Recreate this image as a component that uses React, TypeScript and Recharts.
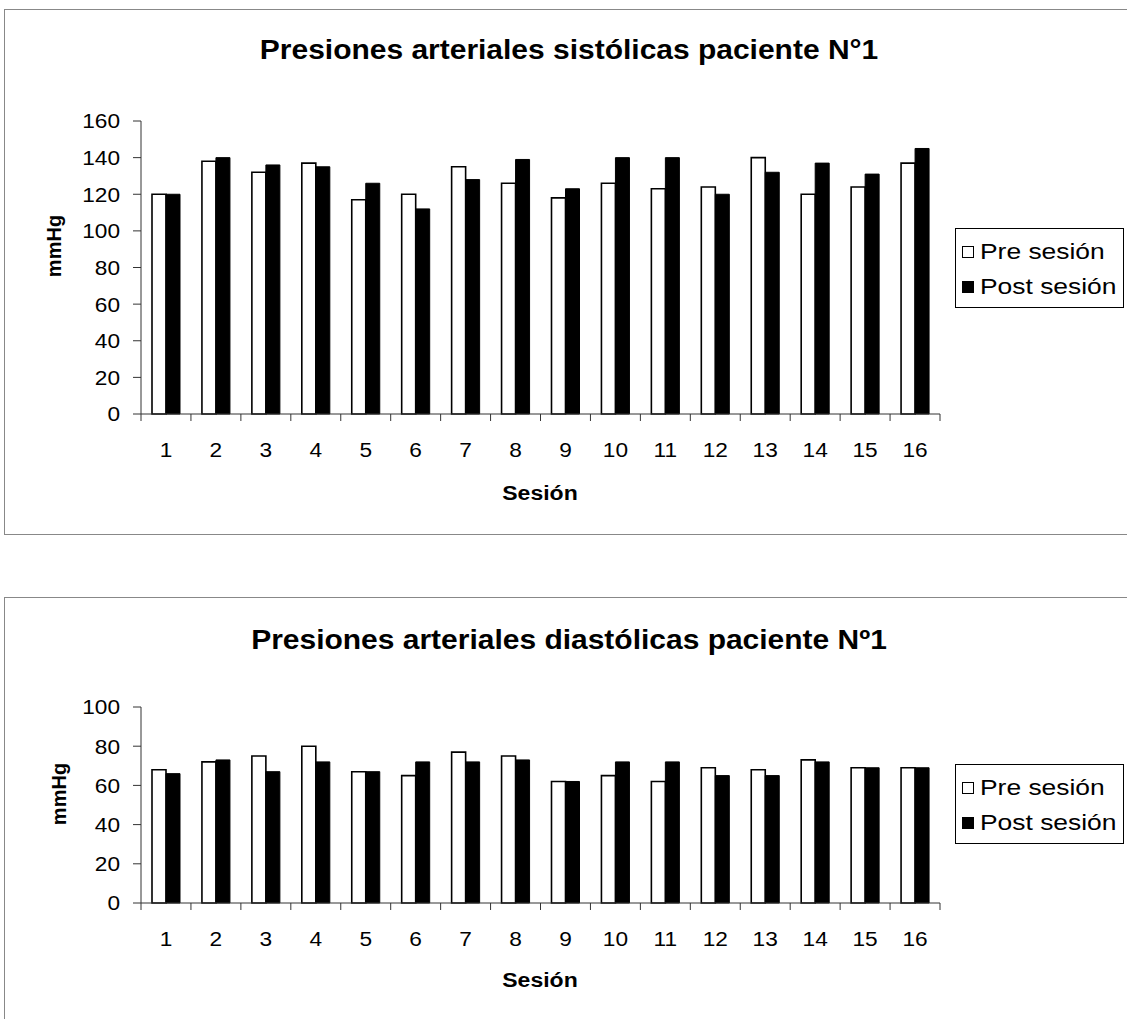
import React from 'react';
import { BarChart, Bar, XAxis, YAxis } from 'recharts';

const sessions = ['1', '2', '3', '4', '5', '6', '7', '8', '9', '10', '11', '12', '13', '14', '15', '16'];
const systolicPre = [120, 138, 132, 137, 117, 120, 135, 126, 118, 126, 123, 124, 140, 120, 124, 137];
const systolicPost = [120, 140, 136, 135, 126, 112, 128, 139, 123, 140, 140, 120, 132, 137, 131, 145];
const diastolicPre = [68, 72, 75, 80, 67, 65, 77, 75, 62, 65, 62, 69, 68, 73, 69, 69];
const diastolicPost = [66, 73, 67, 72, 67, 72, 72, 73, 62, 72, 72, 65, 65, 72, 69, 69];
const systolicTicks = [0, 20, 40, 60, 80, 100, 120, 140, 160];
const diastolicTicks = [0, 20, 40, 60, 80, 100];
const seriesNames = ['Pre sesión', 'Post sesión'];
const titleSystolic = 'Presiones arteriales sistólicas paciente N°1';
const titleDiastolic = 'Presiones arteriales diastólicas paciente Nº1';
const yLabel = 'mmHg';
const xLabel = 'Sesión';

const FONT = '"Liberation Sans", Arial, Helvetica, sans-serif';
const PLOT_LEFT = 141;
const PLOT_RIGHT = 940;
const PAGE_W = 1127;
const BAND = (PLOT_RIGHT - PLOT_LEFT) / sessions.length;

function buildRows(pre: number[], post: number[]) {
  return sessions.map((s, i) => ({ session: s, pre: pre[i], post: post[i] }));
}

const XTick = (props: any) => {
  const { x, y, payload, index } = props;
  const half = BAND / 2;
  const last = index === sessions.length - 1;
  return (
    <g>
      <line x1={x - half} x2={x - half} y1={y} y2={y + 7} stroke="#333" strokeWidth={1} />
      {last && <line x1={x + half} x2={x + half} y1={y} y2={y + 7} stroke="#333" strokeWidth={1} />}
      <text
        x={x}
        y={y + 43}
        textAnchor="middle"
        fontSize={21}
        fontFamily={FONT}
        fill="#000"
        transform={`translate(${x} 0) scale(1.08 1) translate(${-x} 0)`}
      >
        {payload.value}
      </text>
    </g>
  );
};

const YTick = (props: any) => {
  const { x, y, payload } = props;
  return (
    <text
      x={x}
      y={y + 7.5}
      textAnchor="end"
      fontSize={21}
      fontFamily={FONT}
      fill="#000"
      transform={`translate(${x} 0) scale(1.08 1) translate(${-x} 0)`}
    >
      {payload.value}
    </text>
  );
};

type ChartProps = {
  offsetTop: number;
  height: number;
  plotTop: number;
  plotBottom: number;
  pre: number[];
  post: number[];
  ticks: number[];
  max: number;
};

function PressureChart({ offsetTop, height, plotTop, plotBottom, pre, post, ticks, max }: ChartProps) {
  const data = buildRows(pre, post);
  const xAxisH = 30;
  return (
    <div style={{ position: 'absolute', left: 0, top: offsetTop, width: PAGE_W, height }}>
      <BarChart
        width={PAGE_W}
        height={height}
        data={data}
        margin={{
          top: plotTop - offsetTop,
          right: PAGE_W - PLOT_RIGHT,
          left: PLOT_LEFT - 60,
          bottom: offsetTop + height - plotBottom - xAxisH,
        }}
        barGap={0}
        barSize={14}
      >
        <XAxis
          dataKey="session"
          height={xAxisH}
          interval={0}
          tickLine={false}
          tickSize={0}
          tickMargin={0}
          axisLine={{ stroke: '#333', strokeWidth: 1 }}
          tick={<XTick />}
        />
        <XAxis
          xAxisId="top"
          orientation="top"
          dataKey="session"
          height={0}
          tick={false}
          tickLine={false}
          axisLine={{ stroke: '#999', strokeWidth: 1 }}
        />
        <YAxis
          width={60}
          domain={[0, max]}
          ticks={ticks}
          interval={0}
          tickSize={8}
          tickMargin={13}
          axisLine={{ stroke: '#333', strokeWidth: 1 }}
          tickLine={{ stroke: '#333', strokeWidth: 1 }}
          tick={<YTick />}
        />
        <YAxis
          yAxisId="right"
          orientation="right"
          width={0}
          domain={[0, max]}
          tick={false}
          tickLine={false}
          axisLine={{ stroke: '#999', strokeWidth: 1 }}
        />
        <Bar dataKey="pre" name={seriesNames[0]} fill="#fff" stroke="#000" strokeWidth={1.6} isAnimationActive={false} />
        <Bar dataKey="post" name={seriesNames[1]} fill="#000" stroke="#000" strokeWidth={1} isAnimationActive={false} />
      </BarChart>
    </div>
  );
}

function LegendBox({ left, top }: { left: number; top: number }) {
  const rows = [
    { name: seriesNames[0], fill: '#fff' },
    { name: seriesNames[1], fill: '#000' },
  ];
  return (
    <div
      style={{
        position: 'absolute',
        left,
        top,
        width: 169,
        height: 80,
        border: '1px solid #000',
        boxSizing: 'border-box',
        background: '#fff',
      }}
    >
      {rows.map((r, i) => (
        <div
          key={r.name}
          style={{
            position: 'absolute',
            left: 6,
            top: i === 0 ? 10 : 45,
            height: 26,
            display: 'flex',
            alignItems: 'center',
            whiteSpace: 'nowrap',
          }}
        >
          <span
            style={{
              display: 'inline-block',
              width: 10,
              height: 10,
              background: r.fill,
              border: '1px solid #000',
              marginRight: 6,
            }}
          />
          <span
            style={{
              display: 'inline-block',
              fontSize: 22,
              fontFamily: FONT,
              color: '#000',
              transform: 'scaleX(1.2)',
              transformOrigin: 'left center',
            }}
          >
            {r.name}
          </span>
        </div>
      ))}
    </div>
  );
}

function Title({ text, cy }: { text: string; cy: number }) {
  return (
    <div
      style={{
        position: 'absolute',
        left: 169,
        width: 800,
        top: cy - 17,
        height: 34,
        lineHeight: '34px',
        textAlign: 'center',
        fontFamily: FONT,
        fontWeight: 'bold',
        fontSize: 27,
        color: '#000',
        whiteSpace: 'nowrap',
        transform: 'scaleX(1.11)',
        transformOrigin: 'center center',
      }}
    >
      {text}
    </div>
  );
}

function YLabel({ cx, cy }: { cx: number; cy: number }) {
  return (
    <div
      style={{
        position: 'absolute',
        left: cx - 40,
        top: cy - 12,
        width: 80,
        height: 24,
        lineHeight: '24px',
        textAlign: 'center',
        transform: 'rotate(-90deg)',
        fontFamily: FONT,
        fontWeight: 'bold',
        fontSize: 20,
        color: '#000',
      }}
    >
      {yLabel}
    </div>
  );
}

function XLabel({ cy }: { cy: number }) {
  return (
    <div
      style={{
        position: 'absolute',
        left: 440,
        width: 200,
        top: cy - 12,
        height: 24,
        lineHeight: '24px',
        textAlign: 'center',
        fontFamily: FONT,
        fontWeight: 'bold',
        fontSize: 20,
        color: '#000',
        transform: 'scaleX(1.15)',
        transformOrigin: 'center center',
      }}
    >
      {xLabel}
    </div>
  );
}

export default function App() {
  return (
    <div
      style={{
        position: 'absolute',
        left: 0,
        top: 0,
        width: PAGE_W,
        height: 1019,
        background: '#fff',
        overflow: 'hidden',
        fontFamily: FONT,
      }}
    >
      <div style={{ position: 'absolute', left: 4, top: 9, width: 1140, height: 526, border: '1px solid #888', boxSizing: 'border-box' }} />
      <div style={{ position: 'absolute', left: 4, top: 597, width: 1140, height: 500, border: '1px solid #888', boxSizing: 'border-box' }} />

      <Title text={titleSystolic} cy={50} />
      <PressureChart offsetTop={0} height={540} plotTop={121} plotBottom={414} pre={systolicPre} post={systolicPost} ticks={systolicTicks} max={160} />
      <YLabel cx={54} cy={246} />
      <XLabel cy={493} />
      <LegendBox left={955} top={228} />

      <Title text={titleDiastolic} cy={640} />
      <PressureChart offsetTop={560} height={459} plotTop={707} plotBottom={903} pre={diastolicPre} post={diastolicPost} ticks={diastolicTicks} max={100} />
      <YLabel cx={59} cy={794} />
      <XLabel cy={980} />
      <LegendBox left={955} top={764} />
    </div>
  );
}
